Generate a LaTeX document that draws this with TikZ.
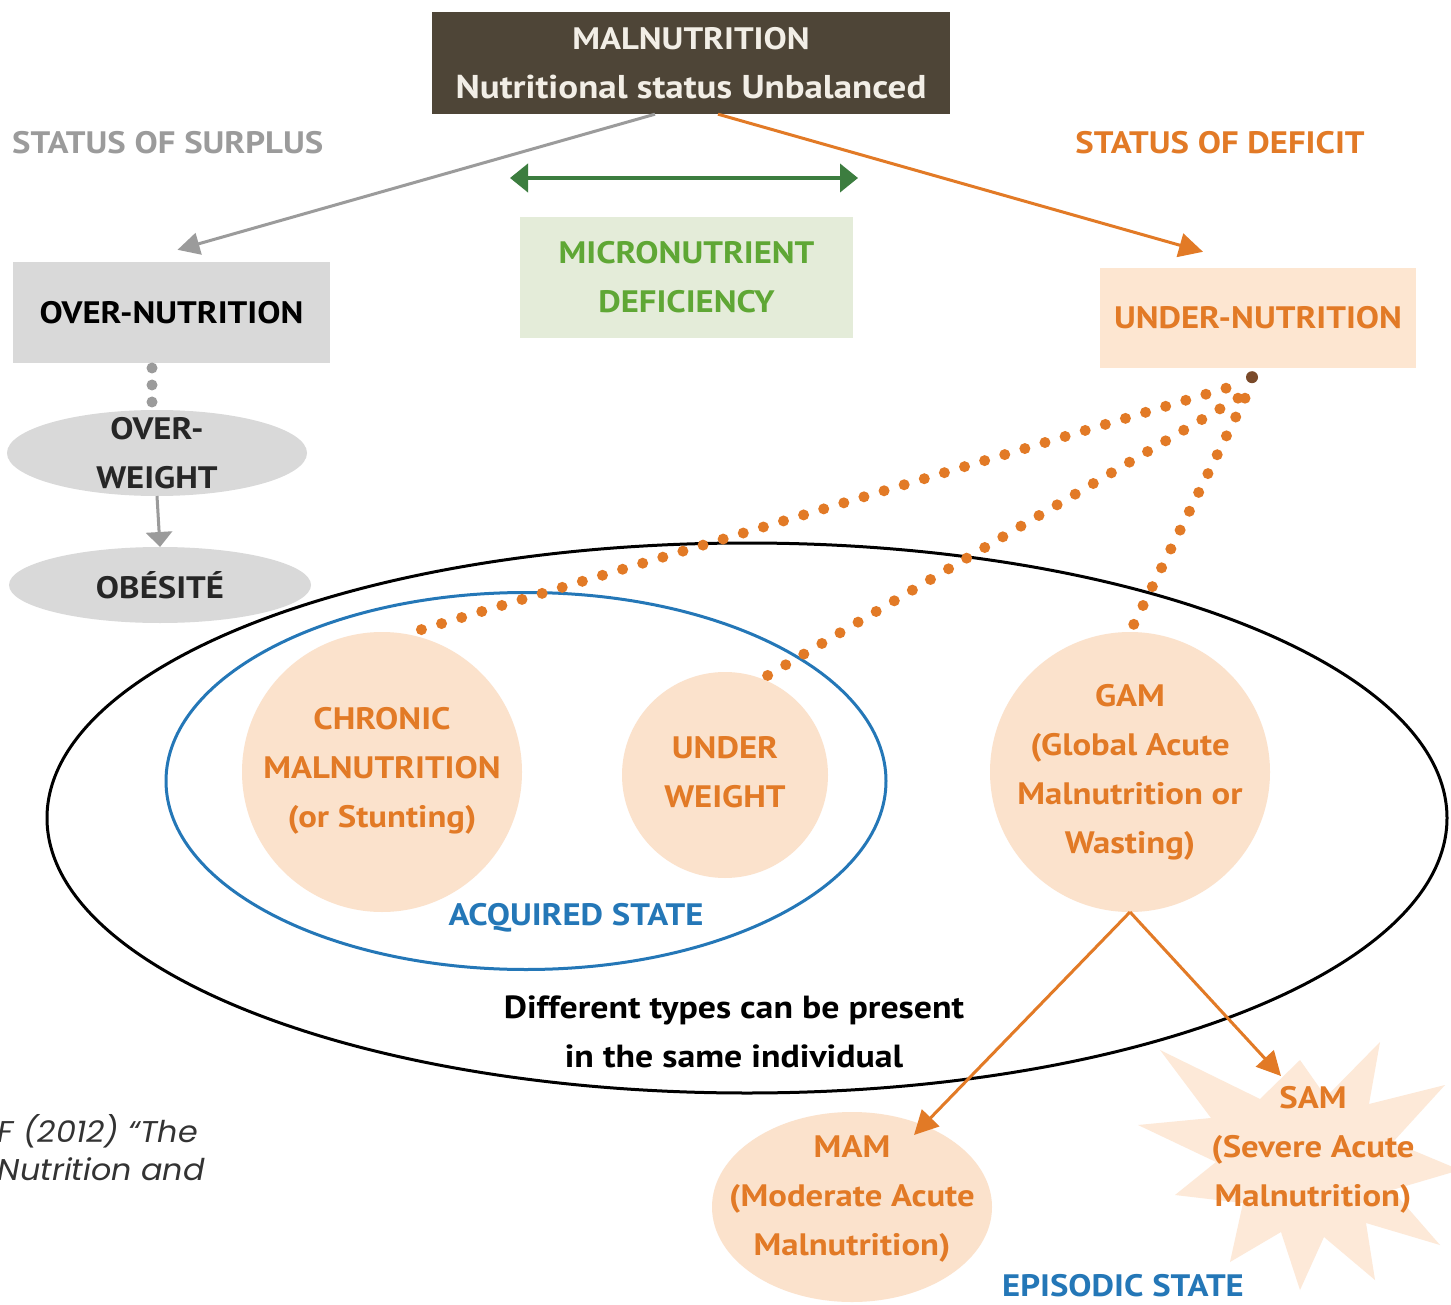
\documentclass[tikz,border=0pt]{standalone}
\usepackage{fontspec}
\setmainfont{PT Sans}[FakeStretch=1.12]
\newfontfamily\citefont{Poppins}[FakeStretch=1.06]
\usetikzlibrary{arrows.meta,calc,shapes.geometric}
\definecolor{brownbox}{HTML}{4E4537}
\definecolor{boxtext}{HTML}{F2EEE6}
\definecolor{surplus}{HTML}{9B9B9B}
\definecolor{deficit}{HTML}{E27A26}
\definecolor{graybox}{HTML}{D9D9D9}
\definecolor{greenbox}{HTML}{E4ECD9}
\definecolor{greentext}{HTML}{5FA735}
\definecolor{greenarrow}{HTML}{3C7D3F}
\definecolor{peach}{HTML}{FBE2CC}
\definecolor{peachbox}{HTML}{FDE6D1}
\definecolor{starfill}{HTML}{FDE9D8}
\definecolor{bluel}{HTML}{2477B7}
\definecolor{browndot}{HTML}{7A4A2A}
\definecolor{citegray}{HTML}{333333}
\begin{document}
\begin{tikzpicture}[x=1pt,y=1pt,
  txt/.style={font=\fontsize{31}{49}\selectfont\bfseries, align=center, inner sep=0pt},
  rbox/.style={rectangle, inner sep=0pt},
  shapeonly/.style={inner sep=0pt, outer sep=0pt},
  peachcirc/.style={circle, fill=peach, shapeonly},
  grayarrow/.style={draw=surplus, line width=3pt, -{Triangle[length=22pt,width=22pt]}},
  orangearrow/.style={draw=deficit, line width=3pt, -{Triangle[length=24pt,width=24pt]}},
  dotline/.style={draw=deficit, line width=11pt, line cap=round, dash pattern=on 0pt off 21pt},
  citestyle/.style={font=\fontsize{30}{38}\selectfont\citefont\itshape, text=citegray, anchor=base east, inner sep=0pt}
]
\useasboundingbox (0,0) rectangle (1451,-1305);
\fill[white] (0,0) rectangle (1451,-1305);

% top box
\node[rbox, fill=brownbox, minimum width=518pt, minimum height=102pt] (mal) at (691,-63) {};
\node[txt, text=boxtext] (maltxt) at (mal) {MALNUTRITION\\{\fontsize{33}{49}\selectfont Nutritional status Unbalanced}};

\node[txt, text=surplus, anchor=west] (surplus) at (12,-143) {STATUS OF SURPLUS};
\node[txt, text=deficit] (deficit) at (1220,-143) {STATUS OF DEFICIT};

% second row boxes
\node[rbox, fill=graybox, minimum width=317pt, minimum height=101pt] (over) at (171.5,-312.5) {};
\node[txt, text=black] (overtxt) at (over) {OVER-NUTRITION};
\node[rbox, fill=greenbox, minimum width=333pt, minimum height=121pt] (micro) at (686.5,-277.5) {};
\node[txt, text=greentext] (microtxt) at (micro) {MICRONUTRIENT\\DEFICIENCY};
\node[rbox, fill=peachbox, minimum width=316pt, minimum height=100pt] (under) at (1258,-318) {};
\node[txt, text=deficit] (undertxt) at (under) {UNDER-NUTRITION};

% arrows from top
\coordinate (grayfrom) at ($(mal.south)+(-36,0)$);
\coordinate (grayto) at ($(over.north)+(6,12)$);
\draw[grayarrow] (grayfrom) -- (grayto);
\coordinate (orangefrom) at ($(mal.south)+(27,0)$);
\coordinate (orangeto) at ($(under.north)+(-55,16)$);
\draw[orangearrow] (orangefrom) -- (orangeto);
\coordinate (gleft) at (510,-178);
\coordinate (gright) at (858,-178);
\draw[draw=greenarrow, line width=4pt, {Triangle[length=18pt,width=28pt]}-{Triangle[length=18pt,width=28pt]}] (gleft) -- (gright);

% over-nutrition chain
\node[ellipse, fill=graybox, shapeonly, minimum width=300pt, minimum height=86pt] (ow) at (157,-453) {};
\node[txt, text=black!85] (owtxt) at (ow) {OVER-\\WEIGHT};
\node[ellipse, fill=graybox, shapeonly, minimum width=302pt, minimum height=76pt] (ob) at (160,-585) {};
\node[txt, text=black!85] (obtxt) at (ob) {OBÉSITÉ};
\foreach \yy in {368,385,402} \fill[surplus] (152,-\yy) circle (5.5);
\draw[draw=surplus, line width=3pt, -{Triangle[length=15pt,width=26pt]}] (ow.south) -- (ob.north);

% SAM star (behind the big ellipse)
\fill[starfill] (1160,-1050) -- (1211,-1118) -- (1138,-1125) -- (1216,-1162) -- (1175,-1195) -- (1243,-1203)
  -- (1230,-1262) -- (1281,-1232) -- (1300,-1290) -- (1324,-1237) -- (1375,-1280) -- (1366,-1223)
  -- (1440,-1245) -- (1392,-1190) -- (1460,-1170) -- (1393,-1142) -- (1445,-1085) -- (1369,-1104)
  -- (1380,-1042) -- (1326,-1097) -- (1300,-1060) -- (1260,-1099) -- cycle;
\node[txt, text=deficit] (samtxt) at (1313,-1150) {SAM\\(Severe Acute\\Malnutrition)};

% MAM
\node[ellipse, fill=peach, shapeonly, minimum width=280pt, minimum height=190pt] (mam) at (852,-1207) {};
\node[txt, text=deficit] (mamtxt) at (852,-1199) {MAM\\(Moderate Acute\\Malnutrition)};

% circles
\node[peachcirc, minimum size=280pt] (chronic) at (382,-772) {};
\node[txt, text=deficit] (chronictxt) at (382,-771) {CHRONIC\\MALNUTRITION\\(or Stunting)};
\node[peachcirc, minimum size=206pt] (uw) at (725,-775) {};
\node[txt, text=deficit] (uwtxt) at (725,-772) {UNDER\\WEIGHT};
\node[peachcirc, minimum size=280pt] (gam) at (1130,-772) {};
\node[txt, text=deficit] (gamtxt) at (1130,-772) {GAM\\(Global Acute\\Malnutrition or\\Wasting)};

% ellipses
\node[ellipse, draw=black, line width=3pt, shapeonly, minimum width=1400pt, minimum height=550pt] (big) at (747,-818) {};
\node[ellipse, draw=bluel, line width=3pt, shapeonly, minimum width=720pt, minimum height=377pt] (acq) at (526,-781) {};

\node[txt, text=bluel] (acqtxt) at (576,-918) {ACQUIRED STATE};
\node[txt, text=black, font=\fontsize{32}{49}\selectfont\bfseries] (difftxt) at (734,-1032) {Different types can be present\\in the same individual};
\node[txt, text=bluel] (epitxt) at (1123,-1286) {EPISODIC STATE};

% GAM arrows
\coordinate (mamto) at (914,-1135);
\coordinate (samto) at (1281,-1076);
\draw[orangearrow] (gam.south) -- (mamto);
\draw[orangearrow] (gam.south) -- (samto);

% dotted connectors
\coordinate (src1) at ($(under.south)+(-32,-20)$);
\coordinate (src2) at ($(under.south)+(-20,-30)$);
\coordinate (src3) at ($(under.south)+(-13,-30)$);
\draw[dotline] (src1) -- (chronic.80);
\draw[dotline] (src2) -- (uw.69);
\draw[dotline] (src3) -- (gam.north);
\fill[browndot] ($(under.south)+(-6,-9)$) circle (6);

% citation fragment
\node[citestyle] (cite1) at (198,-1142) {F (2012) “The};
\node[citestyle] (cite2) at (205,-1180) {Nutrition and};
\end{tikzpicture}
\end{document}
